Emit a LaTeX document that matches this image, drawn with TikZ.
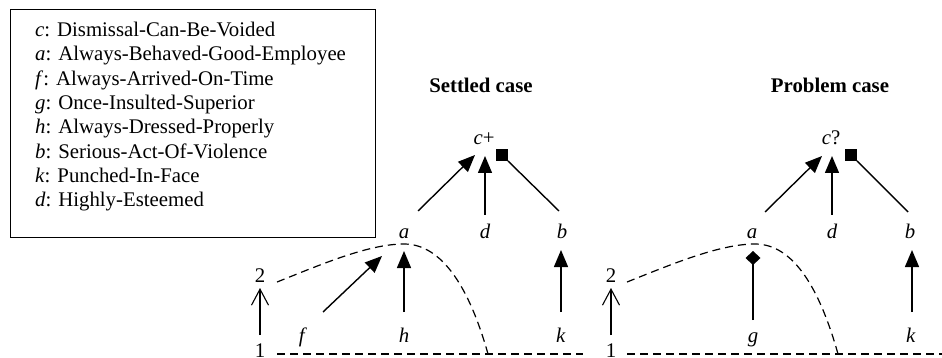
\documentclass[tikz,border=0pt]{standalone}
\usepackage{fontspec}
\setmainfont{Liberation Serif}
\usetikzlibrary{arrows.meta,calc}
\begin{document}
\begin{tikzpicture}[x=1pt,y=-1pt,
  lbl/.style={anchor=base,inner sep=0pt,font=\fontsize{20.8}{24}\selectfont},
  ttl/.style={anchor=base,inner sep=0pt,font=\fontsize{20.8}{24}\selectfont\bfseries},
  leg/.style={anchor=base west,inner sep=0pt,font=\fontsize{20.8}{24}\selectfont},
  sup/.style={line width=1.4pt,-{Triangle[length=17pt,width=14pt]}},
  att/.style={line width=1.4pt},
  undc/.style={line width=1.4pt,-{Diamond[length=14pt,width=15pt]}},
  ord/.style={line width=1.3pt,-{Straight Barb[length=16pt,width=17pt,line width=1.1pt]}},
  dsh/.style={line width=1.2pt,dash pattern=on 8pt off 5pt},
  sqr/.style={rectangle,fill=black,inner sep=0pt,minimum size=11.5pt},
]
\useasboundingbox (0,0) rectangle (942,358);
% legend
\draw[line width=0.9pt] (10,9) rectangle (375,237);
\node[leg] (l1) at (35,36.5) {\textit{c}: Dismissal-Can-Be-Voided};
\node[leg] (l2) at (35,60.8) {\textit{a}: Always-Behaved-Good-Employee};
\node[leg] (l3) at (35,85.2) {\textit{f}: Always-Arrived-On-Time};
\node[leg] (l4) at (35,109.5) {\textit{g}: Once-Insulted-Superior};
\node[leg] (l5) at (35,133.9) {\textit{h}: Always-Dressed-Properly};
\node[leg] (l6) at (35,158.2) {\textit{b}: Serious-Act-Of-Violence};
\node[leg] (l7) at (35,182.6) {\textit{k}: Punched-In-Face};
\node[leg] (l8) at (35,206.9) {\textit{d}: Highly-Esteemed};

% ---------- settled case ----------
\node[ttl] (st) at (481,93) {Settled case};
\node[lbl] (C1) at (484,145) {\textit{c}+};
\node[lbl] (A1) at (404,238) {\textit{a}};
\node[lbl] (D1) at (485,238) {\textit{d}};
\node[lbl] (B1) at (562,238) {\textit{b}};
\node[lbl] (F1) at (303,342) {\textit{f}};
\node[lbl] (H1) at (404,342) {\textit{h}};
\node[lbl] (K1) at (561,342) {\textit{k}};
\node[lbl] (T1) at (260,282) {2};
\node[lbl] (O1) at (260,357) {1};
\node[sqr] (Q1) at (502,155) {};

\draw[sup] ($(A1.base)+(14,-27)$) -- ($(C1.base)+(-9,10)$);
\draw[sup] ($(D1.base)+(0,-23)$) -- ($(C1.base)+(1,11)$);
\draw[att] ($(B1.base)+(-3,-27)$) -- (Q1.south east);
\draw[sup] ($(F1.base)+(20,-30)$) -- ($(A1.base)+(-22,18)$);
\draw[sup] ($(H1.base)+(0,-30)$) -- ($(A1.base)+(0,13)$);
\draw[sup] ($(K1.base)+(0,-30)$) -- ($(B1.base)+(-1,12)$);
\draw[ord] ($(O1.base)+(0,-22)$) -- ($(T1.base)+(0,6)$);
\draw[dsh] ($(T1.base)+(17,0)$) .. controls (320,265) and (368,244) .. (404,244)
   .. controls (443,244) and (470,290) .. (488,354);
\draw[dsh] ($(O1.base)+(17,-3)$) -- (583,354);

% ---------- problem case ----------
\node[ttl] (pt) at (830,93) {Problem case};
\node[lbl] (C2) at (831,145) {\textit{c}?};
\node[lbl] (A2) at (752,238) {\textit{a}};
\node[lbl] (D2) at (832,238) {\textit{d}};
\node[lbl] (B2) at (910,238) {\textit{b}};
\node[lbl] (G2) at (753,342) {\textit{g}};
\node[lbl] (K2) at (911,342) {\textit{k}};
\node[lbl] (T2) at (611,282) {2};
\node[lbl] (O2) at (611,357) {1};
\node[sqr] (Q2) at (851,155) {};

\draw[sup] ($(A2.base)+(13,-26)$) -- ($(C2.base)+(-9,11)$);
\draw[sup] ($(D2.base)+(0,-23)$) -- ($(C2.base)+(1,11)$);
\draw[att] ($(B2.base)+(-2,-26)$) -- (Q2.south east);
\draw[undc] ($(G2.base)+(0,-22)$) -- ($(A2.base)+(1,13)$);
\draw[sup] ($(K2.base)+(1,-30)$) -- ($(B2.base)+(2,12)$);
\draw[ord] ($(O2.base)+(0,-22)$) -- ($(T2.base)+(0,6)$);
\draw[dsh] ($(T2.base)+(16,0)$) .. controls (670,265) and (719,244) .. (755,244)
   .. controls (794,244) and (820,290) .. (838,354);
\draw[dsh] ($(O2.base)+(16,-3)$) -- (942,354);
\end{tikzpicture}
\end{document}
